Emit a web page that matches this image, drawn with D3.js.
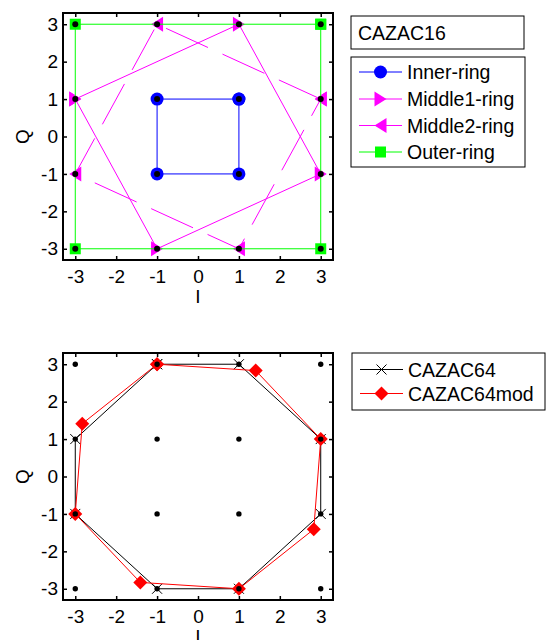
<!DOCTYPE html>
<html>
<head>
<meta charset="utf-8">
<script src="https://cdn.jsdelivr.net/npm/d3@7"></script>
<style>
  body { margin: 0; background: #fff; }
  svg { font-family: "Liberation Sans", Arial, sans-serif; }
</style>
</head>
<body>
<div id="chart"></div>
<script>
// データ
const tickVals = [-3, -2, -1, 0, 1, 2, 3];
const gridI = [-3, -1, 1, 3, -3, -1, 1, 3, -3, -1, 1, 3, -3, -1, 1, 3];
const gridQ = [3, 3, 3, 3, 1, 1, 1, 1, -1, -1, -1, -1, -3, -3, -3, -3];

// CAZAC16
const innerI = [1, -1, -1, 1, 1];
const innerQ = [1, 1, -1, -1, 1];
const middle1I = [-3, 1, 3, -1, -3];
const middle1Q = [1, 3, -1, -3, 1];
const middle2I = [3, -1, -3, 1, 3];
const middle2Q = [1, 3, -1, -3, 1];
const outerI = [3, -3, -3, 3, 3];
const outerQ = [3, 3, -3, -3, 3];
const legend16 = ['Inner-ring', 'Middle1-ring', 'Middle2-ring', 'Outer-ring'];

// CAZAC64
const c64I = [-1, 1, 3, 3, 1, -1, -3, -3, -1];
const c64Q = [3, 3, 1, -1, -3, -3, -1, 1, 3];
const c64modI = [-1, 1.41, 3, 2.83, 1, -1.41, -3, -2.83, -1];
const c64modQ = [3, 2.83, 1, -1.41, -3, -2.83, -1, 1.41, 3];
const legend64 = ['CAZAC64', 'CAZAC64mod'];

const svg = d3.select('#chart').append('svg')
  .attr('width', 546).attr('height', 640);

const zip = (a, b) => a.map((v, i) => [v, b[i]]);

// マーカー
function marker(g, type, cx, cy, color) {
  if (type === 'circle') {
    g.append('circle').attr('cx', cx).attr('cy', cy).attr('r', 6.5).attr('fill', color);
  } else if (type === 'square') {
    g.append('rect').attr('x', cx - 5.5).attr('y', cy - 5.5).attr('width', 11).attr('height', 11).attr('fill', color);
  } else if (type === 'right') {
    g.append('path').attr('d', `M${cx - 6},${cy - 7.5}L${cx + 6},${cy}L${cx - 6},${cy + 7.5}Z`).attr('fill', color);
  } else if (type === 'left') {
    g.append('path').attr('d', `M${cx + 6},${cy - 7.5}L${cx - 6},${cy}L${cx + 6},${cy + 7.5}Z`).attr('fill', color);
  } else if (type === 'diamond') {
    g.append('path').attr('d', `M${cx},${cy - 7}L${cx + 7},${cy}L${cx},${cy + 7}L${cx - 7},${cy}Z`).attr('fill', color);
  } else if (type === 'x') {
    g.append('path').attr('d', `M${cx - 5},${cy - 5}L${cx + 5},${cy + 5}M${cx - 5},${cy + 5}L${cx + 5},${cy - 5}`)
      .attr('stroke', color).attr('stroke-width', 1).attr('fill', 'none');
  }
}

function makeAxes(top) {
  const x = d3.scaleLinear().domain([-3.3, 3.3]).range([63, 333]);
  const y = d3.scaleLinear().domain([-3.3, 3.3]).range([top + 247, top]);
  const g = svg.append('g');

  const fmt = d => String(d);
  const ax = g.append('g').attr('transform', `translate(0,${top + 247})`)
    .call(d3.axisBottom(x).tickValues(tickVals).tickSize(-4).tickPadding(9.5).tickFormat(fmt));
  const ay = g.append('g').attr('transform', 'translate(63,0)')
    .call(d3.axisLeft(y).tickValues(tickVals).tickSize(-4).tickPadding(5).tickFormat(fmt));
  const at = g.append('g').attr('transform', `translate(0,${top})`)
    .call(d3.axisTop(x).tickValues(tickVals).tickSize(-4).tickFormat(''));
  const ar = g.append('g').attr('transform', 'translate(333,0)')
    .call(d3.axisRight(y).tickValues(tickVals).tickSize(-4).tickFormat(''));
  [ax, ay, at, ar].forEach(a => {
    a.select('.domain').remove();
    a.selectAll('line').attr('stroke', '#000').attr('stroke-width', 1.5);
    a.selectAll('text').attr('font-size', 19).attr('fill', '#000')
      .attr('font-family', '"Liberation Sans", Arial, sans-serif');
  });
  g.append('rect').attr('x', 63).attr('y', top).attr('width', 270).attr('height', 247)
    .attr('fill', 'none').attr('stroke', '#000').attr('stroke-width', 2);

  g.append('text').attr('x', 198).attr('y', top + 290).attr('text-anchor', 'middle')
    .attr('font-size', 19).text('I');
  g.append('text').attr('transform', `translate(29,${top + 123.5}) rotate(-90)`)
    .attr('text-anchor', 'middle').attr('font-size', 19).text('Q');

  const plot = svg.append('g');
  return { x, y, plot };
}

function series(p, I, Q, color, mk, dash) {
  const line = d3.line().x(d => p.x(d[0])).y(d => p.y(d[1]));
  const pts = zip(I, Q);
  p.plot.append('path').attr('d', line(pts)).attr('fill', 'none')
    .attr('stroke', color).attr('stroke-width', 1)
    .attr('stroke-dasharray', dash || null);
  const mg = p.plot.append('g');
  pts.forEach(d => marker(mg, mk, p.x(d[0]), p.y(d[1]), color));
}

function dots(p, r) {
  p.plot.selectAll(null).data(zip(gridI, gridQ)).enter().append('circle')
    .attr('cx', d => p.x(d[0])).attr('cy', d => p.y(d[1])).attr('r', r).attr('fill', '#000');
}

// 上: CAZAC16
const p1 = makeAxes(13);
series(p1, innerI, innerQ, '#0000ff', 'circle');
series(p1, middle1I, middle1Q, '#ff00ff', 'right');
series(p1, middle2I, middle2Q, '#ff00ff', 'left', '46,16');
series(p1, outerI, outerQ, '#00ff00', 'square');
dots(p1, 3);

// 下: CAZAC64
const p2 = makeAxes(353);
series(p2, c64I, c64Q, '#000000', 'x');
series(p2, c64modI, c64modQ, '#ff0000', 'diamond');
dots(p2, 2.7);

// 凡例
function legend(x0, y0, w, h, names, colors, mks, rowY) {
  const g = svg.append('g');
  g.append('rect').attr('x', x0).attr('y', y0).attr('width', w).attr('height', h)
    .attr('fill', '#fff').attr('stroke', '#000').attr('stroke-width', 1);
  names.forEach((n, i) => {
    const cy = rowY[i];
    g.append('line').attr('x1', x0 + 8).attr('x2', x0 + 51).attr('y1', cy).attr('y2', cy)
      .attr('stroke', colors[i]).attr('stroke-width', 1);
    marker(g, mks[i], x0 + 29.5, cy, colors[i]);
    g.append('text').attr('x', x0 + 56).attr('y', cy + 7).attr('font-size', 19.5).text(n);
  });
}

svg.append('rect').attr('x', 351).attr('y', 16).attr('width', 173).attr('height', 33)
  .attr('fill', '#fff').attr('stroke', '#000').attr('stroke-width', 1);
svg.append('text').attr('x', 358).attr('y', 39.5).attr('font-size', 19.5).text('CAZAC16');

legend(351, 57, 174, 110, legend16, ['#0000ff', '#ff00ff', '#ff00ff', '#00ff00'],
  ['circle', 'right', 'left', 'square'], [72, 99, 125.5, 152]);
legend(352, 353, 193, 57, legend64, ['#000000', '#ff0000'], ['x', 'diamond'], [369.5, 393.5]);
</script>
</body>
</html>
